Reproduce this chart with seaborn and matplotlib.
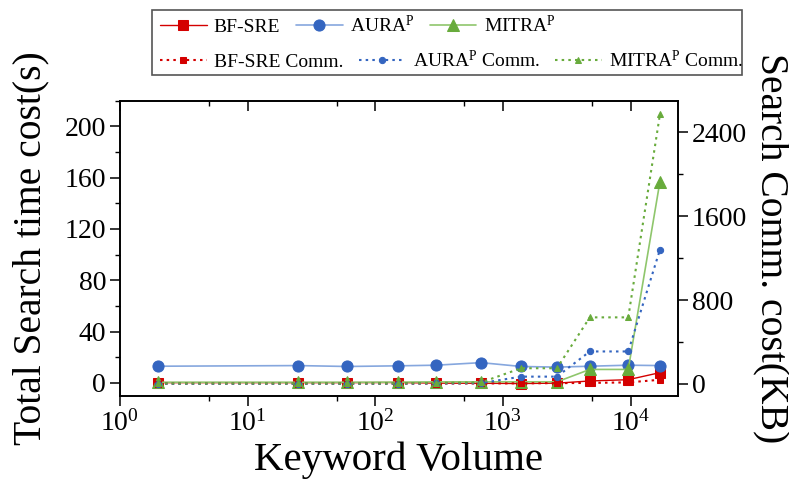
import matplotlib
matplotlib.use("Agg")
import matplotlib.pyplot as plt
import matplotlib.ticker as mticker
from matplotlib.patches import Rectangle
import seaborn as sns

# keyword volume (x) and measured costs
volume = [2, 25, 60, 150, 300, 675, 1390, 2650, 4800, 9600, 17000]

# search time (s), left axis
bf_time = [0.2, 0.2, 0.2, 0.3, -0.2, -0.3, -0.5, -0.2, 1.5, 2.5, 8]
aura_time = [13, 13.5, 12.8, 13.3, 13.8, 15.8, 12.8, 12.3, 13, 13.8, 13.5]
mitra_time = [0.5, 0.5, 0.5, 0.6, 0.8, 0.8, 0.8, 0.8, 10.5, 10.5, 157]

# search communication (KB), right axis
bf_comm = [3, 3, 3, 3, 4, 5, 6, 8, 10, 15, 40]
aura_comm = [2, 2, 2, 3, 5, 8, 70, 70, 310, 310, 1280]
mitra_comm = [5, 5, 5, 6, 10, 15, 150, 150, 635, 635, 2570]

time_labels = ["BF-SRE", r"AURA$^{\mathrm{P}}$", r"MITRA$^{\mathrm{P}}$"]
comm_labels = ["BF-SRE Comm.", r"AURA$^{\mathrm{P}}$ Comm.", r"MITRA$^{\mathrm{P}}$ Comm."]

sns.set_theme(style="ticks")
plt.rcParams["font.family"] = ["Liberation Serif", "DejaVu Serif"]
plt.rcParams["mathtext.fontset"] = "custom"
plt.rcParams["mathtext.rm"] = "Liberation Serif"
plt.rcParams["mathtext.it"] = "Liberation Serif:italic"
plt.rcParams["mathtext.bf"] = "Liberation Serif:bold"
plt.rcParams["axes.edgecolor"] = "black"
plt.rcParams["axes.labelcolor"] = "black"
plt.rcParams["text.color"] = "black"
plt.rcParams["xtick.color"] = "black"
plt.rcParams["ytick.color"] = "black"

RED = "#d40000"
BLUE = "#3465c0"
GREEN = "#68ab3c"
BLUE_LINE = "#86a7de"
GREEN_LINE = "#8fc66c"

fig = plt.figure(figsize=(7.89, 4.82), dpi=100)
ax = fig.add_axes([0.152, 0.179, 0.707, 0.612])
ax.set_xscale("log")
ax2 = ax.twinx()

# time series (solid)
sns.lineplot(x=volume, y=bf_time, ax=ax, color=RED, marker="s", markersize=6.5,
             mec=RED, linewidth=1.0, label=time_labels[0])
sns.lineplot(x=volume, y=aura_time, ax=ax, color=BLUE_LINE, marker="o", markersize=8,
             markerfacecolor=BLUE, mec=BLUE, linewidth=1.2, label=time_labels[1])
sns.lineplot(x=volume, y=mitra_time, ax=ax, color=GREEN_LINE, marker="^", markersize=8.5,
             markerfacecolor=GREEN, mec=GREEN, linewidth=1.2, label=time_labels[2])

# communication series (dotted)
dot = (0, (1.2, 2))
sns.lineplot(x=volume, y=bf_comm, ax=ax2, color=RED, marker="s", markersize=3.8,
             mec=RED, linewidth=1.5, linestyle=dot, label=comm_labels[0])
sns.lineplot(x=volume, y=aura_comm, ax=ax2, color=BLUE, marker="o", markersize=4.5,
             mec=BLUE, linewidth=1.5, linestyle=dot, label=comm_labels[1])
sns.lineplot(x=volume, y=mitra_comm, ax=ax2, color=GREEN, marker="^", markersize=5,
             mec=GREEN, linewidth=1.5, linestyle=dot, label=comm_labels[2])

for a in (ax, ax2):
    if a.get_legend() is not None:
        a.get_legend().remove()

time_lines = ax.get_lines()[:3]
comm_lines = ax2.get_lines()[:3]

# x axis
ax.set_xlim(1, 10 ** 4.37)
ax.xaxis.set_major_locator(mticker.LogLocator(base=10, numticks=10))
ax.xaxis.set_minor_locator(mticker.LogLocator(base=10, subs=[5], numticks=10))
ax.xaxis.set_minor_formatter(mticker.NullFormatter())

# left y axis
ax.set_ylim(-10, 220)
ax.yaxis.set_major_locator(mticker.MultipleLocator(40))
ax.yaxis.set_minor_locator(mticker.MultipleLocator(20))

# right y axis
ax2.set_ylim(-112, 2700)
ax2.yaxis.set_major_locator(mticker.MultipleLocator(800))
ax2.yaxis.set_minor_locator(mticker.MultipleLocator(400))

ax.tick_params(axis="both", which="major", direction="out", length=7, width=1.1,
               labelsize=20, pad=3)
ax.tick_params(axis="both", which="minor", direction="out", length=3.6, width=1.0)
ax.tick_params(axis="y", right=False)
ax2.tick_params(axis="y", which="major", direction="out", length=7, width=1.1,
                labelsize=20, pad=3)
ax2.tick_params(axis="y", which="minor", direction="out", length=3.6, width=1.0)

# inward ticks along the top spine
ax2.xaxis.set_visible(True)
ax2.tick_params(axis="x", which="both", top=True, bottom=False, direction="in",
                labeltop=False, labelbottom=False)
ax2.tick_params(axis="x", which="major", length=7, width=1.1)
ax2.tick_params(axis="x", which="minor", length=3.6, width=1.0)
ax2.set_xlabel("")

for a in (ax, ax2):
    for s in a.spines.values():
        s.set_linewidth(1.2)
        s.set_color("black")

ax.set_xlabel("Keyword Volume", fontsize=29.5, labelpad=4)
ax.set_ylabel("Total Search time cost(s)", fontsize=28.5, labelpad=11)
ax2.set_ylabel("Search Comm. cost(KB)", fontsize=28.5, rotation=270, va="bottom", labelpad=4)

# legend: two independent rows inside one frame
common = dict(loc="center left", ncol=3, frameon=False, fontsize=14, handlelength=2.4,
              handletextpad=0.37, columnspacing=0.8, borderpad=0, borderaxespad=0)
fig.legend(handles=time_lines, labels=time_labels,
           bbox_to_anchor=(160 / 789, 1 - 25 / 482), **common)
fig.legend(handles=comm_lines, labels=comm_labels,
           bbox_to_anchor=(160 / 789, 1 - 60 / 482), **common)
fig.add_artist(Rectangle((152 / 789, 1 - 75 / 482), 590 / 789, 65 / 482,
                         transform=fig.transFigure, fill=False,
                         edgecolor="#555555", linewidth=1.2))

fig.savefig("out.png", dpi=100)
